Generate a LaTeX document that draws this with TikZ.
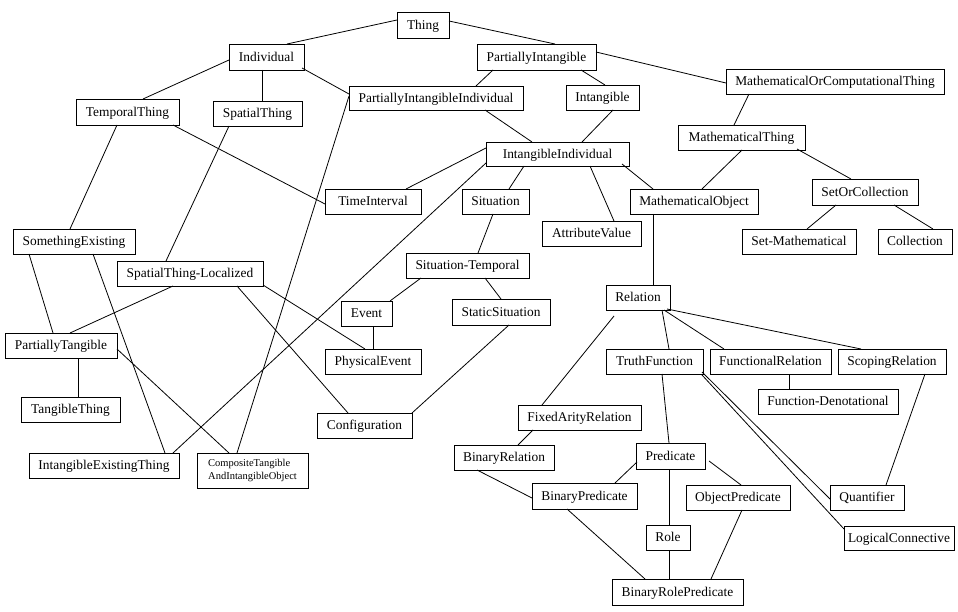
\documentclass[tikz,border=0pt]{standalone}
\usepackage{fontspec}
\setmainfont{Liberation Serif}
\newcommand\bnode[7][]{\node[bx, #1, minimum width={(#5)-(#3)}, minimum height={(#6)-(#4)}] (#2) at ({((#3)+(#5))/2},{((#4)+(#6))/2}) {#7};}
\begin{document}
\begin{tikzpicture}[x=1pt,y=-1pt,
  bx/.style={draw, line width=0.9pt, inner sep=0pt, outer sep=0pt, text height=0.85em, text depth=0pt, font=\fontsize{13.4}{16}\selectfont},
  twoline/.style={text height=, text depth=},
  edge/.style={line width=0.8pt}]
\useasboundingbox[fill=white] (0,0) rectangle (958,612);
\bnode{thing}{397}{12}{449}{38}{Thing}
\bnode{indiv}{229}{44}{304}{70}{Individual}
\bnode{pint}{477}{44}{596}{70}{PartiallyIntangible}
\bnode{moct}{726}{69}{944}{94}{MathematicalOrComputationalThing}
\bnode{temp}{76}{99}{179}{125}{TemporalThing}
\bnode{spat}{213}{101}{302}{126}{SpatialThing}
\bnode{pii}{349}{86}{523}{110}{PartiallyIntangibleIndividual}
\bnode{intg}{566}{85}{639}{110}{Intangible}
\bnode{mth}{678}{125}{805}{150}{MathematicalThing}
\bnode{ii}{486}{142}{629}{166}{IntangibleIndividual}
\bnode{ti}{325}{189}{421}{214}{TimeInterval}
\bnode{sit}{462}{189}{529}{214}{Situation}
\bnode{mo}{630}{189}{758}{214}{MathematicalObject}
\bnode{soc}{812}{179}{918}{205}{SetOrCollection}
\bnode{av}{542}{221}{641}{246}{AttributeValue}
\bnode{se}{13}{229}{135}{254}{SomethingExisting}
\bnode{setm}{742}{229}{856}{254}{Set-Mathematical}
\bnode{coll}{878}{229}{952}{254}{Collection}
\bnode{stl}{117}{261}{263}{286}{SpatialThing-Localized}
\bnode{sitt}{406}{253}{529}{278}{Situation-Temporal}
\bnode{rel}{606}{285}{670}{310}{Relation}
\bnode{ev}{341}{301}{392}{326}{Event}
\bnode{ss}{452}{299}{550}{325}{StaticSituation}
\bnode{pt}{5}{333}{117}{358}{PartiallyTangible}
\bnode{pe}{325}{349}{421}{374}{PhysicalEvent}
\bnode{tf}{606}{349}{703}{374}{TruthFunction}
\bnode{fr}{710}{349}{831}{374}{FunctionalRelation}
\bnode{sr}{838}{349}{946}{374}{ScopingRelation}
\bnode{fd}{758}{389}{898}{414}{Function-Denotational}
\bnode{tt}{21}{397}{120}{422}{TangibleThing}
\bnode{far}{518}{405}{641}{430}{FixedArityRelation}
\bnode{conf}{317}{413}{412}{438}{Configuration}
\bnode{br}{454}{445}{554}{470}{BinaryRelation}
\bnode{pred}{636}{443}{705}{469}{Predicate}
\bnode{iet}{29}{453}{179}{478}{IntangibleExistingThing}
\bnode[twoline]{ctio}{197}{453}{308}{488}{\fontsize{10.5}{13}\selectfont\begin{tabular}{@{}l@{}}CompositeTangible\\AndIntangibleObject\end{tabular}}
\bnode{bp}{532}{483}{637}{509}{BinaryPredicate}
\bnode{op}{686}{485}{790}{510}{ObjectPredicate}
\bnode{quant}{830}{485}{904}{510}{Quantifier}
\bnode{role}{646}{525}{690}{550}{Role}
\bnode{lc}{844}{526}{954}{550}{LogicalConnective}
\bnode{brp}{612}{579}{743}{605}{BinaryRolePredicate}
\foreach \a/\ax/\ay/\b/\bx/\by in {
thing/0/8/indiv/58/0,
thing/52/9/pint/78/0,
indiv/0/16/temp/67/0,
indiv/33/26/spat/49/0,
indiv/73/24/pii/0/8,
temp/97/26/ti/0/15,
temp/41/26/se/57/0,
spat/16/25/stl/49/0,
pii/0/10/ctio/40/0,
ii/0/6/ti/81/0,
ii/0/21/iet/144/0,
pii/136/24/ii/46/0,
intg/47/25/ii/96/0,
pint/16/26/pii/127/0,
pint/104/26/intg/39/0,
pint/119/8/moct/0/14,
moct/23/25/mth/56/0,
mth/64/25/mo/72/0,
mth/119/24/soc/39/0,
ii/136/22/mo/23/0,
ii/38/24/sit/47/0,
ii/104/24/av/72/0,
soc/24/26/setm/65/0,
soc/82/26/coll/55/0,
mo/23/25/rel/47/0,
sit/31/25/sitt/72/0,
sitt/15/25/ev/49/0,
sitt/79/25/ss/49/0,
ev/32/25/pe/48/0,
stl/146/24/pe/40/0,
stl/120/25/conf/31/0,
stl/56/25/pt/65/0,
se/16/25/pt/48/0,
se/80/25/iet/136/0,
pt/73/25/tt/57/0,
pt/112/16/ctio/32/0,
ss/57/26/conf/95/0,
rel/8/31/far/24/0,
rel/56/25/tf/63/0,
rel/58/25/fr/14/0,
rel/61/24/sr/23/0,
fr/79/25/fd/31/0,
tf/56/25/pred/33/0,
tf/96/23/quant/0/14,
tf/96/26/lc/0/3,
sr/87/25/quant/56/0,
far/15/25/br/64/0,
br/23/25/bp/0/15,
pred/1/19/bp/83/0,
pred/73/18/op/55/0,
pred/33/26/role/23/0,
bp/35/26/brp/33/0,
role/23/25/brp/57/0,
op/56/25/brp/99/0}
  \draw[edge] ([shift={(\ax,\ay)}]\a.north west) -- ([shift={(\bx,\by)}]\b.north west);
\end{tikzpicture}
\end{document}
